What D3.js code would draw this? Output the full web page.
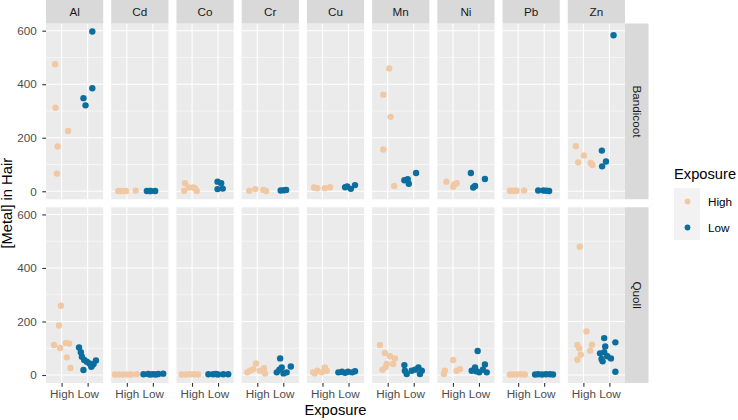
<!DOCTYPE html>
<html><head><meta charset="utf-8">
<script src="https://cdn.jsdelivr.net/npm/d3@7"></script>
<style>
body{margin:0;background:#fff;}
text{font-family:"Liberation Sans",Arial,Helvetica,sans-serif;}
</style></head>
<body><svg id="chart" width="738" height="420"></svg>
<script>
// ---- data ----
const metals = ["Al","Cd","Co","Cr","Cu","Mn","Ni","Pb","Zn"];
const species = ["Bandicoot","Quoll"];
const exposures = ["High","Low"];
const yTicks = [0,200,400,600];
const yMinor = [100,300,500];
// each point: [jitter offset within category (category units), metal concentration]
const bandicootHigh = {
  Al:[[-0.25,475],[-0.23,312],[-0.15,167],[-0.18,66],[0.25,225]],
  Cd:[[-0.33,1],[-0.24,1],[-0.13,1],[-0.03,1],[0.34,2]],
  Co:[[-0.27,30],[-0.30,2],[-0.11,14],[0.05,14],[0.11,11],[0.18,1]],
  Cr:[[-0.31,2],[-0.08,8],[0.23,5],[0.34,1]],
  Cu:[[-0.33,14],[-0.20,11],[0.09,11],[0.29,15]],
  Mn:[[0.06,459],[-0.17,361],[0.11,278],[-0.17,156],[0.25,20]],
  Ni:[[-0.25,36],[0.01,17],[0.14,30],[0.05,25]],
  Pb:[[-0.32,2],[-0.23,2],[-0.13,2],[-0.06,2],[0.23,3]],
  Zn:[[-0.29,168],[0.02,134],[-0.20,108],[0.28,106],[0.35,98]]
};
const bandicootLow = {
  Al:[[0.18,597],[0.18,385],[-0.16,348],[-0.08,321]],
  Cd:[[-0.23,1],[-0.13,1],[-0.08,1],[0.09,1]],
  Co:[[-0.02,36],[0.12,30],[-0.02,8],[0.18,10]],
  Cr:[[-0.10,3],[0.03,4],[0.11,5]],
  Cu:[[-0.13,15],[0.09,9],[0.25,23],[-0.05,18]],
  Mn:[[0.09,68],[-0.36,41],[-0.23,45],[-0.19,28]],
  Ni:[[-0.31,68],[-0.22,14],[-0.15,20],[0.23,46]],
  Pb:[[-0.23,3],[-0.03,3],[0.09,2],[0.19,1]],
  Zn:[[0.16,583],[-0.29,152],[-0.13,111],[-0.28,93]]
};
const quollHigh = {
  Al:[[-0.03,259],[-0.10,185],[-0.29,112],[-0.06,101],[0.16,120],[0.29,118],[0.20,66],[0.34,26]],
  Cd:[[-0.46,2],[-0.30,2],[-0.15,2],[0.01,2],[0.16,2],[0.38,3]],
  Co:[[-0.40,2],[-0.23,2],[-0.08,3],[0.08,3],[0.23,2]],
  Cr:[[-0.28,16],[-0.05,43],[0.10,16],[0.26,25],[0.30,6],[-0.38,10],[-0.15,22]],
  Cu:[[-0.36,10],[-0.20,16],[-0.03,10],[0.09,28],[0.16,16],[-0.30,6]],
  Mn:[[-0.30,112],[-0.11,82],[0.09,70],[0.28,62],[0.21,41],[-0.04,41],[-0.20,20],[-0.08,30]],
  Ni:[[0.01,56],[-0.31,16],[-0.35,4],[0.14,16],[0.27,22]],
  Pb:[[-0.32,2],[-0.20,2],[-0.05,2],[0.10,3],[0.26,2]],
  Zn:[[-0.14,479],[0.12,163],[-0.23,112],[-0.16,100],[0.33,113],[0.26,91],[-0.10,76],[-0.23,57]]
};
const quollLow = {
  Al:[[-0.33,103],[-0.26,85],[-0.22,68],[-0.13,56],[-0.03,50],[0.07,43],[0.16,35],[0.23,41],[0.32,54],[0.14,31],[-0.16,19]],
  Cd:[[-0.36,3],[-0.18,4],[0.01,3],[0.21,4],[0.40,5],[-0.10,2],[0.12,2]],
  Co:[[-0.37,3],[-0.19,3],[0.00,2],[0.20,3],[0.39,3],[-0.08,4]],
  Cr:[[-0.12,62],[-0.25,10],[-0.06,28],[0.13,10],[0.29,32],[0.01,6],[-0.15,20]],
  Cu:[[-0.39,10],[-0.25,12],[-0.13,8],[-0.02,12],[0.14,10],[0.25,14]],
  Mn:[[-0.36,37],[-0.34,16],[-0.27,4],[-0.08,16],[0.18,28],[0.31,16],[0.24,4],[0.05,20]],
  Ni:[[-0.05,90],[-0.28,16],[-0.15,28],[0.01,10],[0.23,39],[0.30,10],[0.15,20],[-0.10,14]],
  Pb:[[-0.35,2],[-0.23,3],[-0.08,2],[0.07,3],[0.22,3],[0.34,2]],
  Zn:[[-0.20,138],[0.23,122],[-0.16,107],[-0.36,81],[-0.20,85],[-0.08,70],[-0.26,51],[0.06,62],[0.23,12],[-0.30,60]]
};
const colors = {High:"#F1C8A4", Low:"#0B6E9E"};

(function(){
const table = [];
[[ "Bandicoot", bandicootHigh, "High"],["Bandicoot", bandicootLow, "Low"],
 ["Quoll", quollHigh, "High"],["Quoll", quollLow, "Low"]].forEach(([sp, obj, ex]) => {
  metals.forEach(m => (obj[m]||[]).forEach(([j,v]) => table.push({species:sp, metal:m, exposure:ex, jitter:j, value:v})));
});

// ---- layout ----
const svg = d3.select("#chart");
const pL = 46, pR = 625, pT = 23.5, pB = 383, gap = 8, stripW = 23.5, stripH = 23.5;
const pw = (pR - pL - gap*(metals.length-1)) / metals.length;
const ph = (pB - pT - gap*(species.length-1)) / species.length;
const fam = '"Liberation Sans",Arial,Helvetica,sans-serif';

const yMax = d3.max(table, d => d.value), yMin = 0;
const pad = (yMax - yMin) * 0.05;
const x = d3.scalePoint().domain(exposures).range([0, pw]).padding(0.6);

species.forEach((sp, ri) => {
  const py = pT + ri*(ph+gap);
  const y = d3.scaleLinear().domain([yMin - pad, yMax + pad]).range([ph, 0]);
  metals.forEach((m, ci) => {
    const px = pL + ci*(pw+gap);
    const g = svg.append("g").attr("transform", `translate(${px},${py})`);
    g.append("rect").attr("width", pw).attr("height", ph).attr("fill", "#EBEBEB");
    g.selectAll(".ymin").data(yMinor).join("line")
      .attr("x1",0).attr("x2",pw).attr("y1",d=>y(d)).attr("y2",d=>y(d))
      .attr("stroke","#fff").attr("stroke-width",0.55);
    g.selectAll(".ymaj").data(yTicks).join("line")
      .attr("x1",0).attr("x2",pw).attr("y1",d=>y(d)).attr("y2",d=>y(d))
      .attr("stroke","#fff").attr("stroke-width",1.1);
    g.selectAll(".xmaj").data(exposures).join("line")
      .attr("x1",d=>x(d)).attr("x2",d=>x(d)).attr("y1",0).attr("y2",ph)
      .attr("stroke","#fff").attr("stroke-width",1.1);
    const pts = table.filter(d => d.species===sp && d.metal===m);
    g.selectAll("circle").data(pts).join("circle")
      .attr("cx", d => x(d.exposure) + d.jitter * x.step())
      .attr("cy", d => y(d.value))
      .attr("r", 3.2)
      .attr("fill", d => colors[d.exposure]);
    if (ri === 0) {
      svg.append("rect").attr("x", px).attr("y", pT - stripH).attr("width", pw).attr("height", stripH).attr("fill", "#D9D9D9");
      svg.append("text").attr("x", px + pw/2).attr("y", pT - stripH/2).attr("dy","0.35em")
        .attr("text-anchor","middle").attr("font-size", 11.7).attr("fill","#1A1A1A").text(m);
    }
    if (ri === species.length-1) {
      const ax = svg.append("g").attr("transform", `translate(${px},${py+ph})`)
        .call(d3.axisBottom(x).tickSize(3.7).tickPadding(3));
      ax.select(".domain").remove();
      ax.selectAll(".tick line").attr("stroke","#333333").attr("stroke-width",1.1);
      ax.selectAll(".tick text").attr("font-size",11.7).attr("fill","#4D4D4D").attr("font-family",fam);
    }
  });
  const ay = svg.append("g").attr("transform", `translate(${pL},${py})`)
    .call(d3.axisLeft(y).tickValues(yTicks).tickSize(3.7).tickPadding(5.5));
  ay.select(".domain").remove();
  ay.selectAll(".tick line").attr("stroke","#333333").attr("stroke-width",1.1);
  ay.selectAll(".tick text").attr("font-size",11.7).attr("fill","#4D4D4D").attr("font-family",fam);
  svg.append("rect").attr("x", pR).attr("y", py).attr("width", stripW).attr("height", ph).attr("fill","#D9D9D9");
  svg.append("text").attr("transform", `translate(${pR + stripW/2},${py + ph/2}) rotate(90)`)
    .attr("dy","0.35em").attr("text-anchor","middle").attr("font-size",11.7).attr("fill","#1A1A1A").text(sp);
});

svg.append("text").attr("x", (pL+pR)/2).attr("y", 415).attr("text-anchor","middle")
  .attr("font-size",14.7).attr("fill","#000").text("Exposure");
svg.append("text").attr("transform", `translate(12,${(pT+pB)/2}) rotate(-90)`).attr("text-anchor","middle")
  .attr("font-size",14.7).attr("fill","#000").text("[Metal] in Hair");

const lg = svg.append("g").attr("transform","translate(674,168)");
lg.append("text").attr("x",0).attr("y",11).attr("font-size",14.7).attr("fill","#000").text("Exposure");
exposures.forEach((e,i) => {
  const ky = 20 + i*26;
  lg.append("rect").attr("x",0).attr("y",ky).attr("width",26).attr("height",26).attr("fill","#F2F2F2");
  lg.append("circle").attr("cx",13.5).attr("cy",ky+13.5).attr("r",2.9).attr("fill",colors[e]);
  lg.append("text").attr("x",34).attr("y",ky+13.5).attr("dy","0.35em").attr("font-size",11.7).attr("fill","#000").text(e);
});
})();
</script>
</body></html>
